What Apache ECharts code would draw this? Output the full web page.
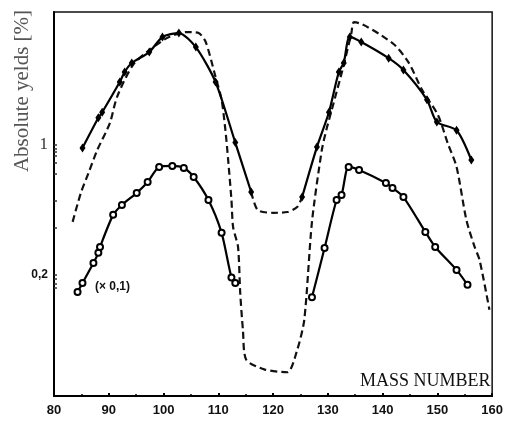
<!DOCTYPE html>
<html>
<head>
<meta charset="utf-8">
<script src="https://cdn.jsdelivr.net/npm/echarts@6/dist/echarts.min.js"></script>
<style>
html,body{margin:0;padding:0;background:#fff;}
#chart{width:506px;height:425px;}
</style>
</head>
<body>
<div id="chart"></div>
<script>
// Calculated curve (dashed), full mass range
const calcMass  = [83.4,84.9,86.3,87.9,90.2,91.5,94.4,97.4,101.0,104.3,106.4,107.7,109.5,110.6,111.3,111.8,112.4,112.7,113.6,114.0,114.5,115.1,118.5,122.6,124.4,125.7,127.1,128.9,129.8,130.7,132.9,134.3,134.8,141.8,144.7,147.2,150.1,151.9,153.5,155.3,156.8,157.7,159.5];
const calcYield = [0.386,0.552,0.707,0.940,1.31,1.81,2.69,3.24,3.81,4.05,4.00,3.58,2.32,1.75,1.20,0.83,0.506,0.362,0.283,0.160,0.101,0.070,0.062,0.060,0.079,0.115,0.386,0.940,1.23,1.54,2.69,4.00,4.58,3.53,2.79,1.98,1.45,1.02,0.762,0.395,0.283,0.241,0.130];

// Measured yields (solid, filled diamonds) - light peak
const measLMass  = [85.2,88.1,88.8,92.0,92.9,94.2,97.4,99.8,102.8,105.9,109.5,113.1,116.0];
const measLYield = [0.963,1.40,1.50,2.18,2.47,2.76,3.16,3.81,4.00,3.36,2.18,1.03,0.559];
// Valley connection (dashed)
const valleyMass  = [116.0,117.2,120.0,122.6,124.4,125.3];
const valleyYield = [0.559,0.447,0.432,0.436,0.464,0.525];
// Measured yields - heavy peak
const measHMass  = [125.3,128.0,130.2,132.0,132.9,134.0,136.1,141.1,143.8,148.1,149.9,153.5,156.2];
const measHYield = [0.525,0.975,1.50,2.47,2.76,3.81,3.58,2.93,2.53,1.75,1.33,1.20,0.83];

// Second data set (x 0.1), open circles
const lowLMass  = [84.3,85.2,87.2,88.1,88.4,90.8,92.4,95.1,97.1,99.2,101.6,103.7,105.5,108.2,110.6,112.4,113.1];
const lowLYield = [0.162,0.181,0.232,0.263,0.283,0.421,0.476,0.552,0.632,0.762,0.772,0.752,0.673,0.506,0.337,0.194,0.181];
const lowHMass  = [127.1,129.4,131.6,132.5,133.8,135.7,140.6,141.8,143.8,147.8,149.6,153.5,155.5];
const lowHYield = [0.152,0.279,0.506,0.539,0.762,0.734,0.625,0.587,0.525,0.341,0.283,0.213,0.177];

const xTicks = [80,90,100,110,120,130,140,150,160];
const yLabelValues = [0.2, 1];
const yLabelTexts  = ['0,2', '1'];
const yMinorMarks  = [1, 0.96, 0.92, 0.87, 0.8, 0.7, 0.5, 0.36, 0.2, 0.19, 0.18, 0.17];

const zip = (a, b) => a.map((v, i) => [v, b[i]]);

const chart = echarts.init(document.getElementById('chart'), null, {renderer: 'canvas'});
const lineBase = {type: 'line', smooth: 0.25, animation: false, z: 3};

chart.setOption({
  backgroundColor: '#fff',
  animation: false,
  grid: {left: 54, right: 7, top: 12, bottom: 29, show: true, borderColor: '#111', borderWidth: 1.5},
  xAxis: {
    type: 'value', min: 80, max: 160, interval: 10,
    axisLine: {show: true, lineStyle: {color: '#000', width: 2}},
    axisTick: {show: true, inside: true, length: 3, lineStyle: {color: '#000', width: 2}},
    minorTick: {show: true, splitNumber: 2, length: 2, lineStyle: {color: '#000', width: 1.5}},
    splitLine: {show: false},
    axisLabel: {
      color: '#111', fontFamily: 'Liberation Sans', fontWeight: 'bold', fontSize: 13, margin: 8,
      showMinLabel: true, showMaxLabel: true,
      formatter: v => xTicks.includes(v) ? String(v) : ''
    }
  },
  yAxis: {
    type: 'log', min: 0.0447, max: 5.19,
    axisLine: {show: true, lineStyle: {color: '#000', width: 2}},
    axisTick: {show: true, inside: true, length: 3, customValues: yMinorMarks, lineStyle: {color: '#333', width: 1.5}},
    splitLine: {show: false},
    axisLabel: {
      customValues: yLabelValues, margin: 6,
      formatter: v => {
        const i = yLabelValues.findIndex(t => Math.abs(t - v) < 1e-6);
        if (i < 0) return '';
        return i === 1 ? '{s|' + yLabelTexts[i] + '}' : '{b|' + yLabelTexts[i] + '}';
      },
      rich: {
        s: {fontFamily: 'Liberation Serif', fontSize: 17, color: '#333'},
        b: {fontFamily: 'Liberation Sans', fontWeight: 'bold', fontSize: 12, color: '#111'}
      }
    }
  },
  graphic: [
    {type: 'text', x: 22, y: 91, rotation: Math.PI / 2,
     style: {text: 'Absolute yelds [%]', fontFamily: 'Liberation Serif', fontSize: 21, fill: '#555', align: 'center', verticalAlign: 'middle'}},
    {type: 'text', x: 360, y: 372,
     style: {text: 'MASS NUMBER', fontFamily: 'Liberation Serif', fontSize: 18, fill: '#111'}},
    {type: 'text', x: 95, y: 281,
     style: {text: '(× 0,1)', fontFamily: 'Liberation Sans', fontWeight: 'bold', fontSize: 12, fill: '#111'}}
  ],
  series: [
    Object.assign({}, lineBase, {
      name: 'calc', data: zip(calcMass, calcYield), showSymbol: false,
      lineStyle: {color: '#111', width: 2.2, type: [7, 4]}
    }),
    Object.assign({}, lineBase, {
      name: 'measL', data: zip(measLMass, measLYield),
      symbol: 'diamond', symbolSize: [6, 9], itemStyle: {color: '#000'},
      lineStyle: {color: '#000', width: 2.2}
    }),
    Object.assign({}, lineBase, {
      name: 'valley', data: zip(valleyMass, valleyYield), showSymbol: false,
      lineStyle: {color: '#111', width: 2.2, type: [7, 4]}
    }),
    Object.assign({}, lineBase, {
      name: 'measH', data: zip(measHMass, measHYield),
      symbol: 'diamond', symbolSize: [6, 9], itemStyle: {color: '#000'},
      lineStyle: {color: '#000', width: 2.2}
    }),
    Object.assign({}, lineBase, {
      name: 'lowL', data: zip(lowLMass, lowLYield),
      symbol: 'emptyCircle', symbolSize: 6, itemStyle: {color: '#000', borderWidth: 1.3},
      lineStyle: {color: '#000', width: 2.2}
    }),
    Object.assign({}, lineBase, {
      name: 'lowH', data: zip(lowHMass, lowHYield),
      symbol: 'emptyCircle', symbolSize: 6, itemStyle: {color: '#000', borderWidth: 1.3},
      lineStyle: {color: '#000', width: 2.2}
    })
  ]
});
</script>
</body>
</html>
